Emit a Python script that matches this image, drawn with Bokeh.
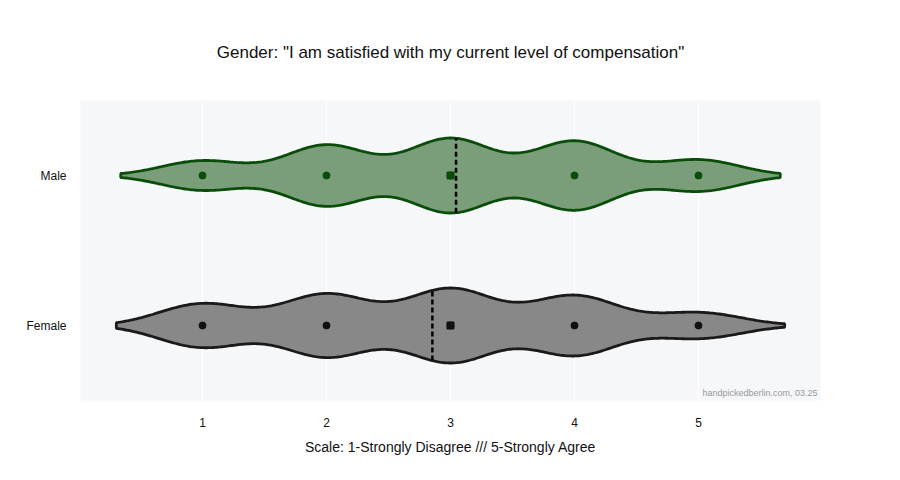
import numpy as np
from bokeh.plotting import figure
from bokeh.models import Range1d, FixedTicker, Label
from bokeh.embed import file_html
from bokeh.resources import INLINE

# answers per score
scores = [1, 2, 3, 4, 5]
groups = ["Female", "Male"]
male_counts = [90, 186, 226, 210, 96]
female_counts = [117, 168, 197, 160, 69]

title = 'Gender: "I am satisfied with my current level of compensation"'
x_label = "Scale: 1-Strongly Disagree /// 5-Strongly Agree"
credit = "handpickedberlin.com, 03.25"

FONT = "Liberation Sans"
HALF = 0.25  # max half width of a violin, in category units


def violin(counts):
    vals = np.repeat(scores, counts).astype(float)
    n = len(vals)
    q1, q3 = np.percentile(vals, [25, 75])
    bw = 1.059 * min(vals.std(ddof=1), (q3 - q1) / 1.349) * n ** -0.2
    grid = np.linspace(vals.min() - 2 * bw, vals.max() + 2 * bw, 400)
    dens = np.exp(-0.5 * ((grid[:, None] - vals[None, :]) / bw) ** 2).sum(axis=1)
    scale = HALF / dens.max()
    mean = vals.mean()
    dmean = np.exp(-0.5 * ((mean - vals) / bw) ** 2).sum() * scale
    return grid, dens * scale, mean, dmean, np.median(vals)


p = figure(
    width=890,
    height=472,
    x_range=Range1d(0.016, 5.984),
    y_range=Range1d(-0.5, 1.5),
    output_backend="svg",
    toolbar_location=None,
    min_border_left=80,
    min_border_right=70,
    min_border_top=100,
    min_border_bottom=72,
)
p.background_fill_color = "#f5f7f9"
p.border_fill_color = "white"
p.outline_line_color = None
p.ygrid.visible = False
p.xgrid.grid_line_color = "white"
p.xgrid.grid_line_width = 1

p.title.text = title
p.title.align = "center"
p.title.text_font = FONT
p.title.text_font_size = "17px"
p.title.text_font_style = "normal"
p.title.text_color = "#111111"
p.title.standoff = 77

styles = {
    "Male": dict(fill="#7a9e7a", line="#0a4d0a", dot="#0a4d0a", counts=male_counts),
    "Female": dict(fill="#888888", line="#1a1a1a", dot="#111111", counts=female_counts),
}

for yc, g in enumerate(groups):
    s = styles[g]
    grid, hw, mean, dmean, med = violin(s["counts"])
    xs = np.concatenate([grid, grid[::-1]])
    ys = np.concatenate([yc + hw, (yc - hw)[::-1]])
    p.patch(xs, ys, fill_color=s["fill"], fill_alpha=1.0,
            line_color=s["line"], line_width=2.8)
    p.scatter(scores, [yc] * len(scores), marker="circle", size=7,
              fill_color=s["dot"], line_color=s["dot"])
    p.scatter([med], [yc], marker="square", size=7,
              fill_color=s["dot"], line_color=s["dot"])
    p.segment(x0=[mean], y0=[yc - dmean], x1=[mean], y1=[yc + dmean],
              line_color="black", line_width=2.5, line_dash="5 3")

p.xaxis.ticker = FixedTicker(ticks=scores)
p.xaxis.axis_label = x_label
p.xaxis.axis_label_text_font = FONT
p.xaxis.axis_label_text_font_size = "14px"
p.xaxis.axis_label_text_font_style = "normal"
p.xaxis.axis_label_text_color = "#111111"
p.xaxis.axis_label_standoff = 9
p.xaxis.major_label_standoff = 11

p.yaxis.ticker = FixedTicker(ticks=list(range(len(groups))))
p.yaxis.major_label_overrides = {i: g for i, g in enumerate(groups)}
p.yaxis.major_label_standoff = 8

for ax in (p.xaxis, p.yaxis):
    ax.axis_line_color = None
    ax.major_tick_line_color = None
    ax.minor_tick_line_color = None
    ax.major_label_text_font = FONT
    ax.major_label_text_font_size = "12px"
    ax.major_label_text_color = "#111111"

p.add_layout(Label(x=5.96, y=-0.48, text=credit, text_align="right",
                   text_baseline="bottom", text_font=FONT,
                   text_font_size="9px", text_color="#999999"))

open("out.html", "w").write(file_html(p, INLINE))
